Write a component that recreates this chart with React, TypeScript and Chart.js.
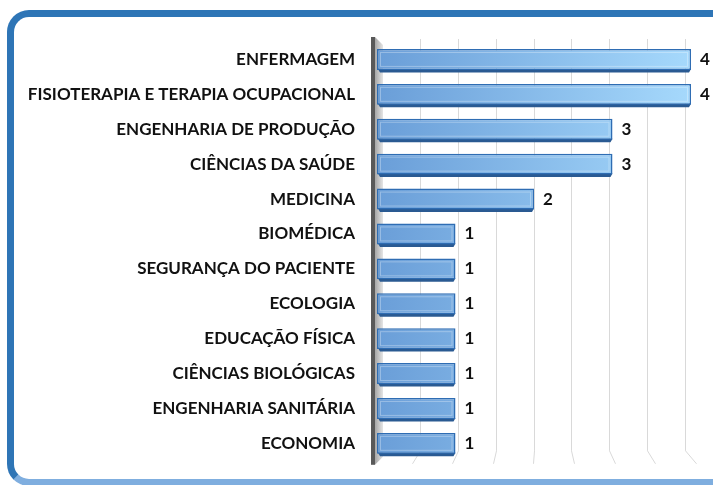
import React, { useEffect, useRef } from "react";
import { Chart, registerables } from "chart.js";

Chart.register(...registerables);

const categories = [
  "ENFERMAGEM",
  "FISIOTERAPIA E TERAPIA OCUPACIONAL",
  "ENGENHARIA DE PRODUÇÃO",
  "CIÊNCIAS DA SAÚDE",
  "MEDICINA",
  "BIOMÉDICA",
  "SEGURANÇA DO PACIENTE",
  "ECOLOGIA",
  "EDUCAÇÃO FÍSICA",
  "CIÊNCIAS BIOLÓGICAS",
  "ENGENHARIA SANITÁRIA",
  "ECONOMIA",
];
const values = [4, 4, 3, 3, 2, 1, 1, 1, 1, 1, 1, 1];
const xMax = 4;
const gridStep = 0.5;

const FONT = "Lato";

const decorPlugin = {
  id: "decor",
  beforeDatasetsDraw(chart: any) {
    const { ctx, chartArea } = chart;
    const xs = chart.scales.x;
    const L = chartArea.left;
    const T = chartArea.top;
    const B = chartArea.bottom;
    ctx.save();
    const center = xs.getPixelForValue(2);
    ctx.strokeStyle = "#D9D9D9";
    ctx.lineWidth = 1;
    for (let v = gridStep; v <= xMax + 1e-9; v += gridStep) {
      const px = xs.getPixelForValue(v);
      const bx = L + 5 + (px - L) * 0.965;
      const dx = (bx - center) * 0.07;
      ctx.beginPath();
      ctx.moveTo(Math.round(bx) + 0.5, T - 3);
      ctx.lineTo(Math.round(bx) + 0.5, B - 10);
      ctx.lineTo(Math.round(bx + dx) + 0.5, B + 3);
      ctx.stroke();
    }
    const g = ctx.createLinearGradient(L - 2, 0, L + 7, 0);
    g.addColorStop(0, "#A6A6A6");
    g.addColorStop(1, "#EDEDED");
    ctx.fillStyle = g;
    ctx.beginPath();
    ctx.moveTo(L - 2, T - 5);
    ctx.lineTo(L + 6, T + 3);
    ctx.lineTo(L + 6, B - 4);
    ctx.lineTo(L - 2, B + 4);
    ctx.closePath();
    ctx.fill();
    ctx.fillStyle = "#595959";
    ctx.fillRect(L - 6, T - 5, 4, B - T + 9);
    const meta = chart.getDatasetMeta(0);
    meta.data.forEach((bar: any) => {
      const h = bar.height;
      const yb = bar.y + h / 2;
      ctx.fillStyle = "#2A5A92";
      ctx.beginPath();
      ctx.moveTo(bar.base + 1, yb - 1);
      ctx.lineTo(bar.x, yb - 1);
      ctx.lineTo(bar.x - 2, yb + 2.5);
      ctx.lineTo(bar.base + 3, yb + 2.5);
      ctx.closePath();
      ctx.fill();
    });
    ctx.restore();
  },
  afterDatasetsDraw(chart: any) {
    const { ctx } = chart;
    const meta = chart.getDatasetMeta(0);
    ctx.save();
    meta.data.forEach((bar: any) => {
      const h = bar.height;
      ctx.strokeStyle = "rgba(255,255,255,0.3)";
      ctx.lineWidth = 1;
      ctx.strokeRect(bar.base + 3.5, bar.y - h / 2 + 3.5, bar.x - bar.base - 7, h - 7);
    });
    ctx.fillStyle = "#111111";
    ctx.font = `bold 17px ${FONT}`;
    ctx.textAlign = "left";
    ctx.textBaseline = "middle";
    meta.data.forEach((bar: any, i: number) => {
      ctx.fillText(String(values[i]), bar.x + 9, bar.y);
    });
    ctx.restore();
  },
};

export default function App() {
  const ref = useRef<HTMLCanvasElement | null>(null);
  useEffect(() => {
    if (!ref.current) return;
    const chart = new Chart(ref.current, {
      type: "bar",
      data: {
        labels: categories,
        datasets: [
          {
            data: values,
            backgroundColor: (c: any) => {
              const ca = c.chart.chartArea;
              if (!ca) return "#7FB2E5";
              const g = c.chart.ctx.createLinearGradient(ca.left, 0, ca.right, 0);
              g.addColorStop(0, "#6A9ED8");
              g.addColorStop(1, "#A6D9FC");
              return g;
            },
            borderColor: "#2F6DB3",
            borderWidth: 1.5,
            borderSkipped: false,
            barPercentage: 0.6,
            categoryPercentage: 1,
          },
        ],
      },
      options: {
        indexAxis: "y",
        responsive: false,
        animation: false,
        devicePixelRatio: 1,
        layout: { padding: { top: 42, bottom: 23, right: 22, left: 0 } },
        plugins: { legend: { display: false }, tooltip: { enabled: false } },
        scales: {
          x: { display: false, min: 0, max: xMax },
          y: {
            grid: { display: false },
            border: { display: false },
            ticks: {
              padding: 14,
              color: "#111111",
              font: { family: FONT, weight: "bold", size: 17 },
            },
            afterFit: (s: any) => {
              s.width = 377;
            },
          },
        },
      } as any,
      plugins: [decorPlugin],
    });
    return () => chart.destroy();
  }, []);
  return (
    <div
      style={{
        position: "fixed",
        left: 0,
        top: 0,
        width: 713,
        height: 485,
        overflow: "hidden",
        background: "#fff",
      }}
    >
      <div
        style={{
          position: "absolute",
          left: 7,
          top: 10,
          width: 760,
          height: 476,
          boxSizing: "border-box",
          borderStyle: "solid",
          borderWidth: 7,
          borderColor: "#2E75B6 #2E75B6 #7FAEDF #2E75B6",
          borderRadius: 22,
        }}
      />
      <canvas
        ref={ref}
        width={713}
        height={485}
        style={{ position: "absolute", left: 0, top: 0, width: 713, height: 485 }}
      />
    </div>
  );
}
